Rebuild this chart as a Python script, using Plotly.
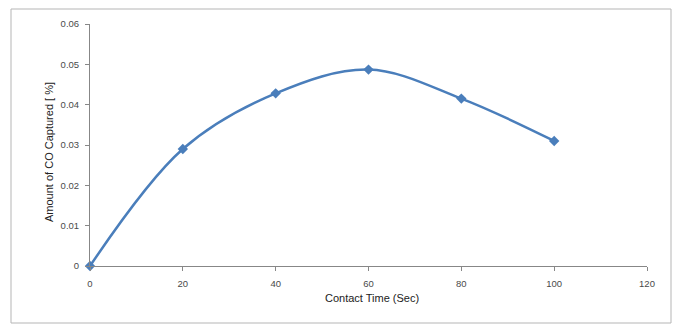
import plotly.graph_objects as go

contact_time = [0, 20, 40, 60, 80, 100]
co_captured = [0.0, 0.029, 0.0428, 0.0487, 0.0415, 0.031]
x_ticks = [0, 20, 40, 60, 80, 100, 120]
y_ticks = [0, 0.01, 0.02, 0.03, 0.04, 0.05, 0.06]
y_tick_labels = ["0", "0.01", "0.02", "0.03", "0.04", "0.05", "0.06"]

W, H = 678, 329
L, R, T, B = 90, 31, 24, 63
pw, ph = W - L - R, H - T - B

def px_x(p):
    return (p - L) / pw

def px_y(p):
    return (H - B - p) / ph

fig = go.Figure()
fig.add_trace(go.Scatter(
    x=contact_time, y=co_captured, mode="lines+markers",
    line=dict(color="#4A7EBB", width=2.5, shape="spline", smoothing=1.0),
    marker=dict(symbol="diamond", size=8, color="#4A7EBB"),
    showlegend=False, cliponaxis=False,
))

axis_common = dict(showgrid=False, zeroline=False, showline=True, linecolor="#878787",
                   linewidth=1, ticks="outside", ticklen=4, tickcolor="#878787",
                   tickfont=dict(family="Liberation Sans", size=9.5, color="#4a4a4a"))
fig.update_xaxes(range=[0, 120], tickvals=x_ticks, ticklabelstandoff=5, **axis_common)
fig.update_yaxes(range=[0, 0.06], tickvals=y_ticks, ticktext=y_tick_labels, ticklabelstandoff=4, **axis_common)

fig.add_annotation(text="Contact Time (Sec)", x=px_x(372), y=px_y(306), xref="paper", yref="paper",
                   showarrow=False, font=dict(family="Liberation Sans", size=11, color="#222222"))
fig.add_annotation(text="Amount of CO Captured [ %]", x=px_x(41), y=px_y(152), xref="paper", yref="paper",
                   textangle=-90, showarrow=False,
                   font=dict(family="Liberation Sans", size=11, color="#222222"))

fig.add_shape(type="rect", xref="paper", yref="paper",
              x0=px_x(11), x1=px_x(671), y0=px_y(323), y1=px_y(9),
              line=dict(color="#B5B5B5", width=1), layer="below")

fig.update_layout(width=W, height=H, margin=dict(l=L, r=R, t=T, b=B),
                  paper_bgcolor="white", plot_bgcolor="white")
fig.write_html("out.html")
